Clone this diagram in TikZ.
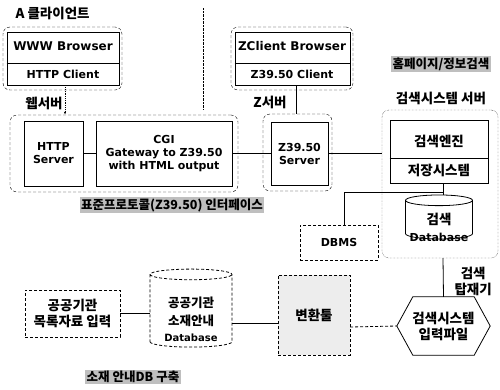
\documentclass[tikz,border=0pt]{standalone}
\usepackage{fontspec}
\setmainfont{DejaVu Sans}
\newfontfamily\kr{Noto Sans CJK KR}
\usetikzlibrary{shapes.geometric,calc,arrows.meta}
\tikzset{
  grp/.style={draw, densely dashed, rounded corners=7pt},
  grpdot/.style={draw, densely dotted, rounded corners=7pt},
  inbox/.style={draw, thick},
  en/.style={font=\fontsize{11}{13}\selectfont\bfseries, align=center},
  enbig/.style={font=\fontsize{12}{14}\selectfont\bfseries, align=center},
  ko/.style={font=\kr\fontsize{13.5}{16}\selectfont\bfseries, align=center},
  tag/.style={font=\kr\fontsize{12.5}{14}\selectfont\bfseries, fill=black!25, inner sep=1.5pt},
  conn/.style={draw, thick},
  db/.style={cylinder, shape border rotate=90, draw, aspect=1.6}
}
\begin{document}
\begin{tikzpicture}[x=1pt,y=-1pt]
\useasboundingbox (0,0) rectangle (500,389);

% separator
\draw[densely dotted] (203,8) -- (203,110);

% client
\node[ko, anchor=west] (ctitle) at (12,13) {A 클라이언트};
\node[grp, minimum width=119, minimum height=63] (cli) at (62.5,58.5) {};
\node[inbox, minimum width=112, minimum height=53] (clin) at (63,58.5) {};
\node[enbig] (www) at (63,46) {WWW Browser};
\node[en] (hcl) at (63,74.5) {HTTP Client};
\draw[thick] (clin.west |- 0,63) -- (clin.east |- 0,63);

% ZClient
\node[grp, minimum width=122, minimum height=63] (zcg) at (292,58.5) {};
\node[inbox, minimum width=115, minimum height=53] (zcl) at (292.5,58.5) {};
\node[enbig] (zbr) at (292,46) {ZClient Browser};
\node[en] (zc) at (292,74.5) {Z39.50 Client};
\draw[thick] (zcl.west |- 0,63) -- (zcl.east |- 0,63);

% labels
\node[ko] (web) at (44,103) {웹서버};
\node[ko] (zsv) at (270,102) {Z서버};
\node[tag] (home) at (441,64) {홈페이지/정보검색};
\node[ko] (sst) at (441,98) {검색시스템 서버};

% web server group
\node[grp, minimum width=228, minimum height=77] (wsg) at (124,153.5) {};
\node[inbox, minimum width=59, minimum height=65] (hsv) at (53.5,153.5) {};
\node[en] at (hsv) {HTTP\\Server};
\node[inbox, minimum width=136, minimum height=65] (cgi) at (164,153.5) {};
\node[en] at (cgi) {CGI\\Gateway to Z39.50\\with HTML output};

% Z39.50 server group
\node[grp, minimum width=69, minimum height=77] (zsg) at (297.5,152.5) {};
\node[inbox, minimum width=57, minimum height=63] (zsv) at (299.5,153.5) {};
\node[en] at (zsv) {Z39.50\\Server};

% search server group
\node[grpdot, minimum width=116, minimum height=148] (ssg) at (440,184) {};
\node[inbox, minimum width=98, minimum height=63] (eng) at (439,151.5) {};
\draw[thick] (eng.west |- 0,158) -- (eng.east |- 0,158);
\node[ko] (engt) at (439,141) {검색엔진};
\node[ko] (stor) at (439,170) {저장시스템};
\node[db, thick, minimum width=67, minimum height=44] (sdb) at (439,221) {};
\node[ko] at (439,219) {검색};
\node[en] at (439,237) {Database};

% DBMS
\node[draw, densely dashed, minimum width=78, minimum height=35] (dbms) at (339,242.5) {};
\node[en] at (dbms) {DBMS};
\coordinate (jn) at (443,192);

% hexagon
\node[minimum width=93, minimum height=58, inner sep=0] (hex) at (443.5,326) {};
\draw[thick] (hex.west) -- ($(hex.north west)+(16,0)$) -- ($(hex.north east)+(-16,0)$) -- (hex.east) -- ($(hex.south east)+(-16,0)$) -- ($(hex.south west)+(16,0)$) -- cycle;
\node[ko] at (hex) {검색시스템\\입력파일};
\node[ko, anchor=west] (tjk) at (451,281) {검색\\탑재기};

% conversion tool
\node[draw, densely dashed, fill=black!7, minimum width=72, minimum height=80] (cvt) at (314,315) {};
\node[ko] at (cvt) {변환툴};

% public DB
\node[db, densely dashed, thick, minimum width=82, minimum height=78] (pdb) at (191,312) {};
\node[ko, font=\kr\fontsize{12.5}{18}\selectfont\bfseries] at (191,312) {공공기관\\소재안내};
\node[en, font=\fontsize{10}{12}\selectfont\bfseries] at (191,338) {Database};
\node[draw, densely dashed, thick, minimum width=95, minimum height=47] (inp) at (72.5,313.5) {};
\node[ko] at (inp) {공공기관\\목록자료 입력};

\node[tag] (ifc) at (172,205) {표준프로토콜(Z39.50) 인터페이스};
\node[tag] (bld) at (133,377) {소재 안내DB 구축};

% connectors
\draw[densely dotted, thick, -{Latex[length=3pt]}] (clin.south -| 65,0) -- (wsg.north -| 65,0);
\draw[thick] (zcl.south -| 296,0) -- (zsg.north -| 296,0);
\draw[thick] (hsv.east) -- (cgi.west);
\draw[thick] (cgi.east) -- (zsv.west);
\draw[thick] (zsv.east) -- (ssg.west |- zsv.east);
\draw[thick] (eng.south -| 443,0) -- (sdb.north -| 443,0);
\draw[thick] (dbms.north -| 344,0) |- (jn);
\draw[thick] (ssg.south -| 443,0) -- (hex.north);
\draw[thick] (inp.east) -- (pdb.west |- inp.east);
\draw[thick] (pdb.east |- 0,323) -- (cvt.west |- 0,323);
\draw[densely dashed, thick] (cvt.east |- 0,327) -- (hex.west);
\end{tikzpicture}
\end{document}
